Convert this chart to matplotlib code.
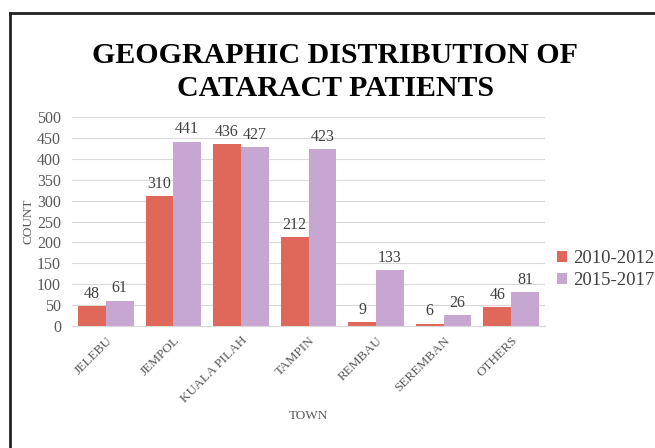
import numpy as np
import matplotlib
matplotlib.use("Agg")
import matplotlib.pyplot as plt
from matplotlib.lines import Line2D

towns = ["JELEBU", "JEMPOL", "KUALA PILAH", "TAMPIN", "REMBAU", "SEREMBAN", "OTHERS"]
counts_2010 = [48, 310, 436, 212, 9, 6, 46]
counts_2015 = [61, 441, 427, 423, 133, 26, 81]
series_labels = ["2010-2012", "2015-2017"]

RED = "#E0685A"
PURPLE = "#C8A6D2"

plt.rcParams["font.family"] = ["Liberation Serif", "DejaVu Serif"]

fig = plt.figure(figsize=(6.55, 4.48), dpi=100)
ax = fig.add_axes([0.110, 0.272, 0.722, 0.467])

x = np.arange(len(towns))
w = 0.41
b1 = ax.bar(x - w / 2, counts_2010, w, color=RED, label=series_labels[0])
b2 = ax.bar(x + w / 2, counts_2015, w, color=PURPLE, label=series_labels[1])

for bars in (b1, b2):
    ax.bar_label(bars, padding=3, fontsize=11.5, color="#404040")

ax.set_xlim(-0.5, len(towns) - 0.5)
ax.set_ylim(0, 500)
ax.set_yticks(range(0, 501, 50))
ax.yaxis.grid(True, color="#D9D9D9", linewidth=0.8)
ax.set_axisbelow(True)
for s in ["top", "right", "left"]:
    ax.spines[s].set_visible(False)
ax.spines["bottom"].set_color("#D9D9D9")
ax.tick_params(axis="both", length=0, colors="#595959")
ax.tick_params(axis="y", labelsize=11.5, pad=8)
ax.tick_params(axis="x", pad=6)
ax.set_xticks(x)
ax.set_xticklabels(towns, rotation=45, ha="right", rotation_mode="anchor", fontsize=9.5)

ax.set_ylabel("COUNT", fontsize=9.5, color="#595959", labelpad=2)
ax.set_xlabel("TOWN", fontsize=9.5, color="#595959", labelpad=3)

fig.text(0.512, 0.839, "GEOGRAPHIC DISTRIBUTION OF\nCATARACT PATIENTS", ha="center",
         va="center", fontsize=21.5, fontweight="bold", linespacing=1.3)

ax.legend(loc="center left", bbox_to_anchor=(0.99, 0.27), frameon=False, fontsize=13.5,
          handlelength=0.55, handleheight=0.55, handletextpad=0.3, labelspacing=0.25,
          labelcolor="#404040")

fig.add_artist(Line2D([10 / 655, 1], [1 - 13 / 448, 1 - 13 / 448], color="#222222", linewidth=2))
fig.add_artist(Line2D([10 / 655, 10 / 655], [0, 1 - 13 / 448], color="#222222", linewidth=2))

fig.savefig("out.png", dpi=100)
